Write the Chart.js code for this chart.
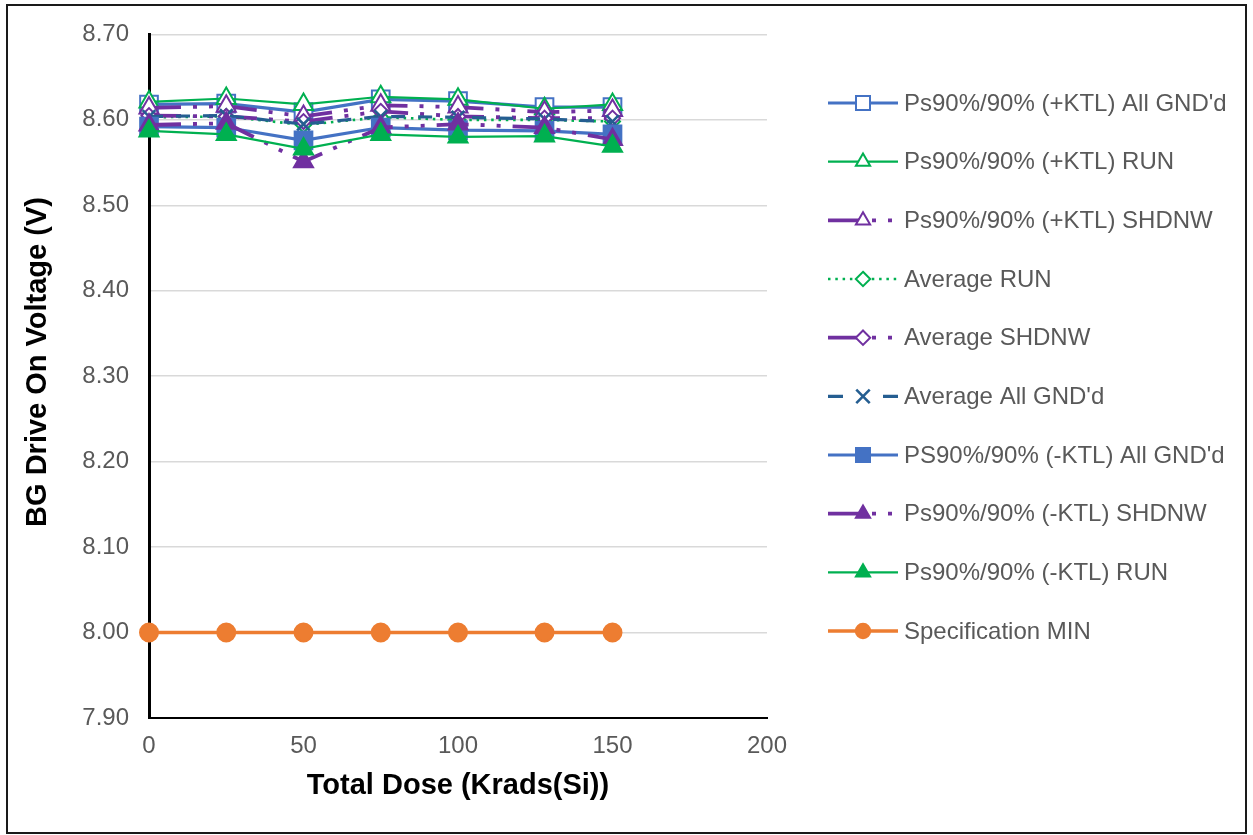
<!DOCTYPE html>
<html>
<head>
<meta charset="utf-8">
<title>BG Drive On Voltage vs Total Dose</title>
<script src="https://cdn.jsdelivr.net/npm/chart.js@4/dist/chart.umd.min.js"></script>
<style>
  html, body { margin: 0; padding: 0; background: #fff; }
  #wrap { position: relative; width: 1253px; height: 835px; }
</style>
</head>
<body>
<div id="wrap"><canvas id="chart"></canvas></div>
<script>
// Total dose steps (Krads(Si))
const doses = [0, 25, 50, 75, 100, 128, 150];

// BG drive on voltage (V) per series
const plusKtlGnd  = [8.618, 8.619, 8.609, 8.624, 8.622, 8.615, 8.615];
const plusKtlRun  = [8.621, 8.625, 8.618, 8.627, 8.624, 8.613, 8.618];
const plusKtlShd  = [8.614, 8.616, 8.604, 8.617, 8.615, 8.609, 8.611];
const avgRun      = [8.603, 8.604, 8.594, 8.603, 8.600, 8.600, 8.598];
const avgShd      = [8.605, 8.604, 8.598, 8.610, 8.604, 8.602, 8.602];
const avgGnd      = [8.604, 8.605, 8.595, 8.604, 8.603, 8.601, 8.598];
const minusKtlGnd = [8.592, 8.591, 8.576, 8.591, 8.588, 8.587, 8.583];
const minusKtlShd = [8.594, 8.596, 8.551, 8.591, 8.595, 8.591, 8.577];
const minusKtlRun = [8.587, 8.583, 8.566, 8.583, 8.580, 8.581, 8.569];
const specMin     = [8.00, 8.00, 8.00, 8.00, 8.00, 8.00, 8.00];

const seriesNames = [
  "Ps90%/90% (+KTL) All GND'd",
  "Ps90%/90% (+KTL) RUN",
  "Ps90%/90% (+KTL) SHDNW",
  "Average RUN",
  "Average SHDNW",
  "Average All GND'd",
  "PS90%/90% (-KTL) All GND'd",
  "Ps90%/90% (-KTL) SHDNW",
  "Ps90%/90% (-KTL) RUN",
  "Specification MIN"
];

// Axis ticks
const xTickValues = [0, 50, 100, 150, 200];
const xTickLabels = ['0', '50', '100', '150', '200'];
const yTickValues = [7.9, 8.0, 8.1, 8.2, 8.3, 8.4, 8.5, 8.6, 8.7];
const yTickLabels = ['7.90', '8.00', '8.10', '8.20', '8.30', '8.40', '8.50', '8.60', '8.70'];

const xTitle = 'Total Dose (Krads(Si))';
const yTitle = 'BG Drive On Voltage (V)';

const FONT = "'Liberation Sans', Arial, Helvetica, sans-serif";
const BLUE = '#4472C4', GREEN = '#00B050', PURPLE = '#7030A0', NAVY = '#255E91', ORANGE = '#ED7D31';
const SHD_DASH = [32, 12, 4, 12, 4, 12];   // long dash - dot - dot
const DOT_DASH = [2.5, 4.8];
const AVG_DASH = [14, 13];

// style: [color, lineWidth, dash, marker, plotRadius, legendRadius, filled, legendDash]
const styles = [
  [BLUE,   3.2, [],       'rect',     12.5, 9.9, false, null],
  [GREEN,  2.2, [],       'triangle', 11,   8.2, false, null],
  [PURPLE, 3.8, SHD_DASH, 'triangle', 11,   8.2, false, null],
  [GREEN,  2.6, DOT_DASH, 'rectRot',  7.5,  7.2, false, null],
  [PURPLE, 3.8, SHD_DASH, 'rectRot',  7.5,  7.2, false, null],
  [NAVY,   3.2, AVG_DASH, 'crossRot', 9,    9.5, false, [15, 40]],
  [BLUE,   3.2, [],       'rect',     12.5, 9.9, true,  null],
  [PURPLE, 3.8, SHD_DASH, 'triangle', 11,   8.2, true,  null],
  [GREEN,  2.2, [],       'triangle', 11,   8.2, true,  null],
  [ORANGE, 3.4, [],       'circle',   9,    7.2, true,  null]
];

const seriesValues = [plusKtlGnd, plusKtlRun, plusKtlShd, avgRun, avgShd, avgGnd,
                      minusKtlGnd, minusKtlShd, minusKtlRun, specMin];

const datasets = seriesValues.map((vals, i) => {
  const [color, lw, dash, marker, r, , filled] = styles[i];
  return {
    label: seriesNames[i],
    data: doses.map((d, k) => ({ x: d, y: vals[k] })),
    borderColor: color,
    backgroundColor: color,
    borderWidth: lw,
    borderDash: dash,
    borderCapStyle: 'butt',
    pointStyle: marker,
    pointRadius: r,
    pointHoverRadius: r,
    pointBorderColor: color,
    pointBackgroundColor: filled ? color : '#ffffff',
    pointBorderWidth: marker === 'crossRot' ? 2.6 : 2,
    tension: 0,
    fill: false,
    clip: false,
    order: seriesValues.length - i
  };
});

function drawMarker(ctx, type, x, y, r) {
  ctx.beginPath();
  if (type === 'rect') {
    const s = r * Math.SQRT1_2;
    ctx.rect(x - s, y - s, 2 * s, 2 * s);
  } else if (type === 'triangle') {
    ctx.moveTo(x, y - r);
    ctx.lineTo(x + r * 0.8660254, y + r * 0.5);
    ctx.lineTo(x - r * 0.8660254, y + r * 0.5);
    ctx.closePath();
  } else if (type === 'rectRot') {
    ctx.moveTo(x, y - r);
    ctx.lineTo(x + r, y);
    ctx.lineTo(x, y + r);
    ctx.lineTo(x - r, y);
    ctx.closePath();
  } else if (type === 'crossRot') {
    const s = r * Math.SQRT1_2;
    ctx.moveTo(x - s, y - s); ctx.lineTo(x + s, y + s);
    ctx.moveTo(x - s, y + s); ctx.lineTo(x + s, y - s);
  } else {
    ctx.arc(x, y, r, 0, Math.PI * 2);
  }
}

const decorations = {
  id: 'decorations',
  afterDraw(chart) {
    const ctx = chart.ctx;
    const area = chart.chartArea;
    ctx.save();

    // axis titles
    ctx.fillStyle = '#000';
    ctx.font = "bold 29px " + FONT;
    ctx.textAlign = 'center';
    ctx.textBaseline = 'middle';
    ctx.fillText(xTitle, (area.left + area.right) / 2, 786);
    ctx.save();
    ctx.translate(38, 362);
    ctx.rotate(-Math.PI / 2);
    ctx.fillText(yTitle, 0, 0);
    ctx.restore();

    // legend
    const lx0 = 828, lx1 = 898, mx = 863, tx = 904;
    const top = 103, step = 58.67;
    ctx.font = "24px " + FONT;
    ctx.textAlign = 'left';
    seriesNames.forEach((name, i) => {
      const [color, lw, dash, marker, , lr, filled, legendDash] = styles[i];
      const y = top + i * step;
      ctx.save();
      ctx.strokeStyle = color;
      ctx.lineWidth = lw;
      ctx.lineCap = 'butt';
      ctx.setLineDash(legendDash || dash);
      ctx.beginPath();
      ctx.moveTo(lx0, y);
      ctx.lineTo(lx1, y);
      ctx.stroke();
      ctx.setLineDash([]);
      ctx.lineWidth = marker === 'crossRot' ? 2.6 : 2;
      drawMarker(ctx, marker, mx, y, lr);
      if (marker !== 'crossRot') {
        ctx.fillStyle = filled ? color : '#ffffff';
        ctx.fill();
      }
      ctx.stroke();
      ctx.restore();
      ctx.fillStyle = '#595959';
      ctx.fillText(name, tx, y + 1);
    });

    // outer frame
    ctx.strokeStyle = '#1a1a1a';
    ctx.lineWidth = 2;
    ctx.strokeRect(7, 5, 1239, 828);
    ctx.restore();
  }
};

new Chart(document.getElementById('chart'), {
  type: 'line',
  data: { datasets },
  plugins: [decorations],
  options: {
    responsive: true,
    maintainAspectRatio: false,
    animation: false,
    events: [],
    layout: { padding: { left: 0, top: 34, right: 486, bottom: 0 } },
    plugins: { legend: { display: false }, tooltip: { enabled: false } },
    scales: {
      x: {
        type: 'linear',
        min: 0, max: 200,
        afterBuildTicks: s => { s.ticks = xTickValues.map(v => ({ value: v })); },
        ticks: {
          callback: (v, i) => xTickLabels[i],
          font: { family: FONT, size: 24 },
          color: '#595959',
          padding: 14,
          maxRotation: 0,
          autoSkip: false
        },
        grid: { display: false, drawTicks: false },
        border: { display: true, color: '#000', width: 2 },
        afterFit: s => { s.height = 117; }
      },
      y: {
        type: 'linear',
        min: 7.9, max: 8.7,
        afterBuildTicks: s => { s.ticks = yTickValues.map(v => ({ value: v })); },
        ticks: {
          callback: (v, i) => yTickLabels[i],
          font: { family: FONT, size: 24 },
          color: '#595959',
          padding: 20,
          autoSkip: false
        },
        grid: { color: '#D9D9D9', lineWidth: 1.5, drawTicks: false },
        border: { display: true, color: '#000', width: 3 },
        afterFit: s => { s.width = 149; }
      }
    }
  }
});
</script>
</body>
</html>
